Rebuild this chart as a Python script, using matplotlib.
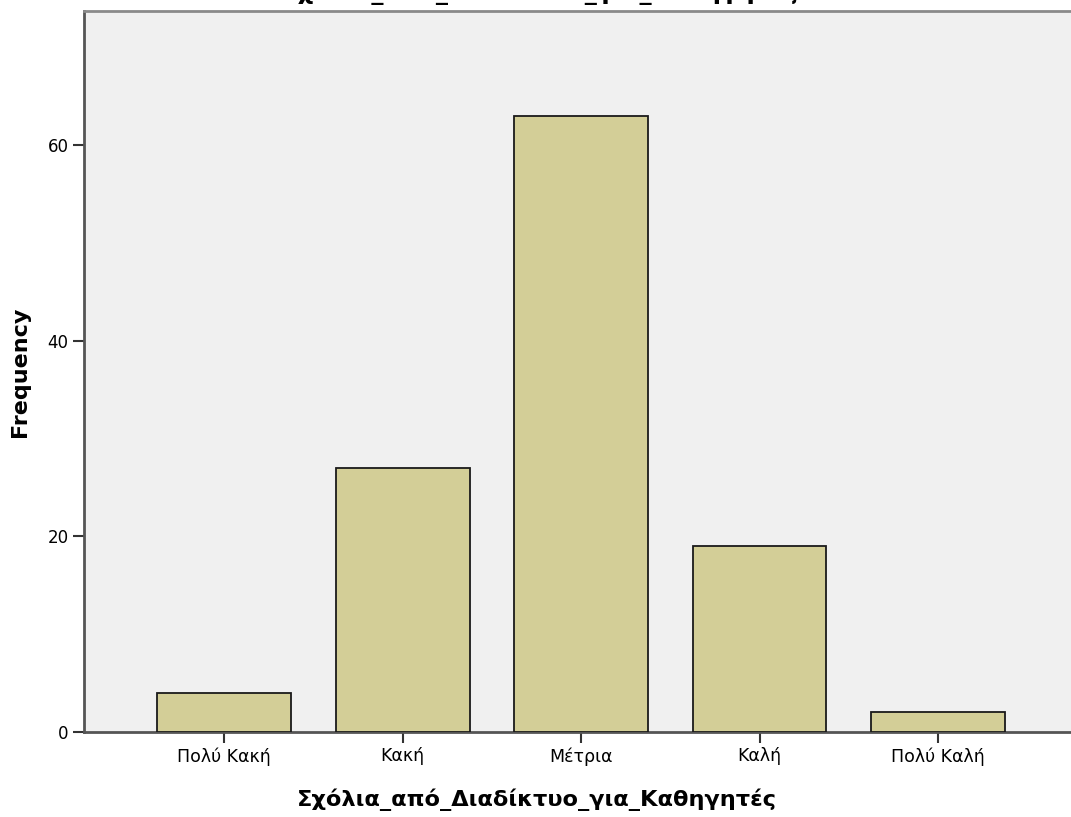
import matplotlib
matplotlib.use("Agg")
import matplotlib.pyplot as plt

categories = ["Πολύ Κακή", "Κακή", "Μέτρια", "Καλή", "Πολύ Καλή"]
frequencies = [4, 27, 63, 19, 2]
yticks = [0, 20, 40, 60]
title_text = "Σχόλια_από_Διαδίκτυο_για_Καθηγητές"
xlabel_text = "Σχόλια_από_Διαδίκτυο_για_Καθηγητές"
ylabel_text = "Frequency"

plt.rcParams['font.family'] = ['DejaVu Sans']

fig = plt.figure(figsize=(10.71, 8.17), dpi=100)
ax = fig.add_axes([84/1071, 1 - 732/817, (1075 - 84)/1071, (732 - 11)/817])
ax.set_facecolor("#f0f0f0")

x = list(range(len(categories)))
ax.bar(x, frequencies, width=0.75, color="#d3ce97", edgecolor="#1a1a1a", linewidth=1.3, zorder=3)

ax.set_xlim(-0.785, 4 + (1075 - 938) / 178.5)
ax.set_ylim(0, (732 - 11) / (587 / 60))
ax.set_xticks(x)
ax.set_xticklabels(categories, fontsize=12.5)
ax.set_yticks(yticks)
ax.set_yticklabels([str(v) for v in yticks], fontsize=12)
ax.tick_params(axis='both', direction='out', length=8, width=1.5, color="#333333", pad=3)

for s in ['left', 'bottom']:
    ax.spines[s].set_color("#555555")
    ax.spines[s].set_linewidth(2)
ax.spines['top'].set_color("#8a8a8a")
ax.spines['top'].set_linewidth(2)
ax.spines['right'].set_visible(False)

ax.set_xlabel(xlabel_text, fontsize=16.2, fontweight='bold')
ax.xaxis.set_label_coords((537 - 84) / 991, -(800 - 732) / 721)
ax.xaxis.label.set_va('center')
ax.set_ylabel(ylabel_text, fontsize=16, fontweight='bold')
ax.yaxis.set_label_coords(-(84 - 20) / 991, 0.5)
ax.yaxis.label.set_va('center')

fig.text(540/1071, 1 + 1/817, title_text, ha='center', va='baseline', fontsize=17.5, fontweight='bold')

fig.savefig("out.png", dpi=100, facecolor="white")
